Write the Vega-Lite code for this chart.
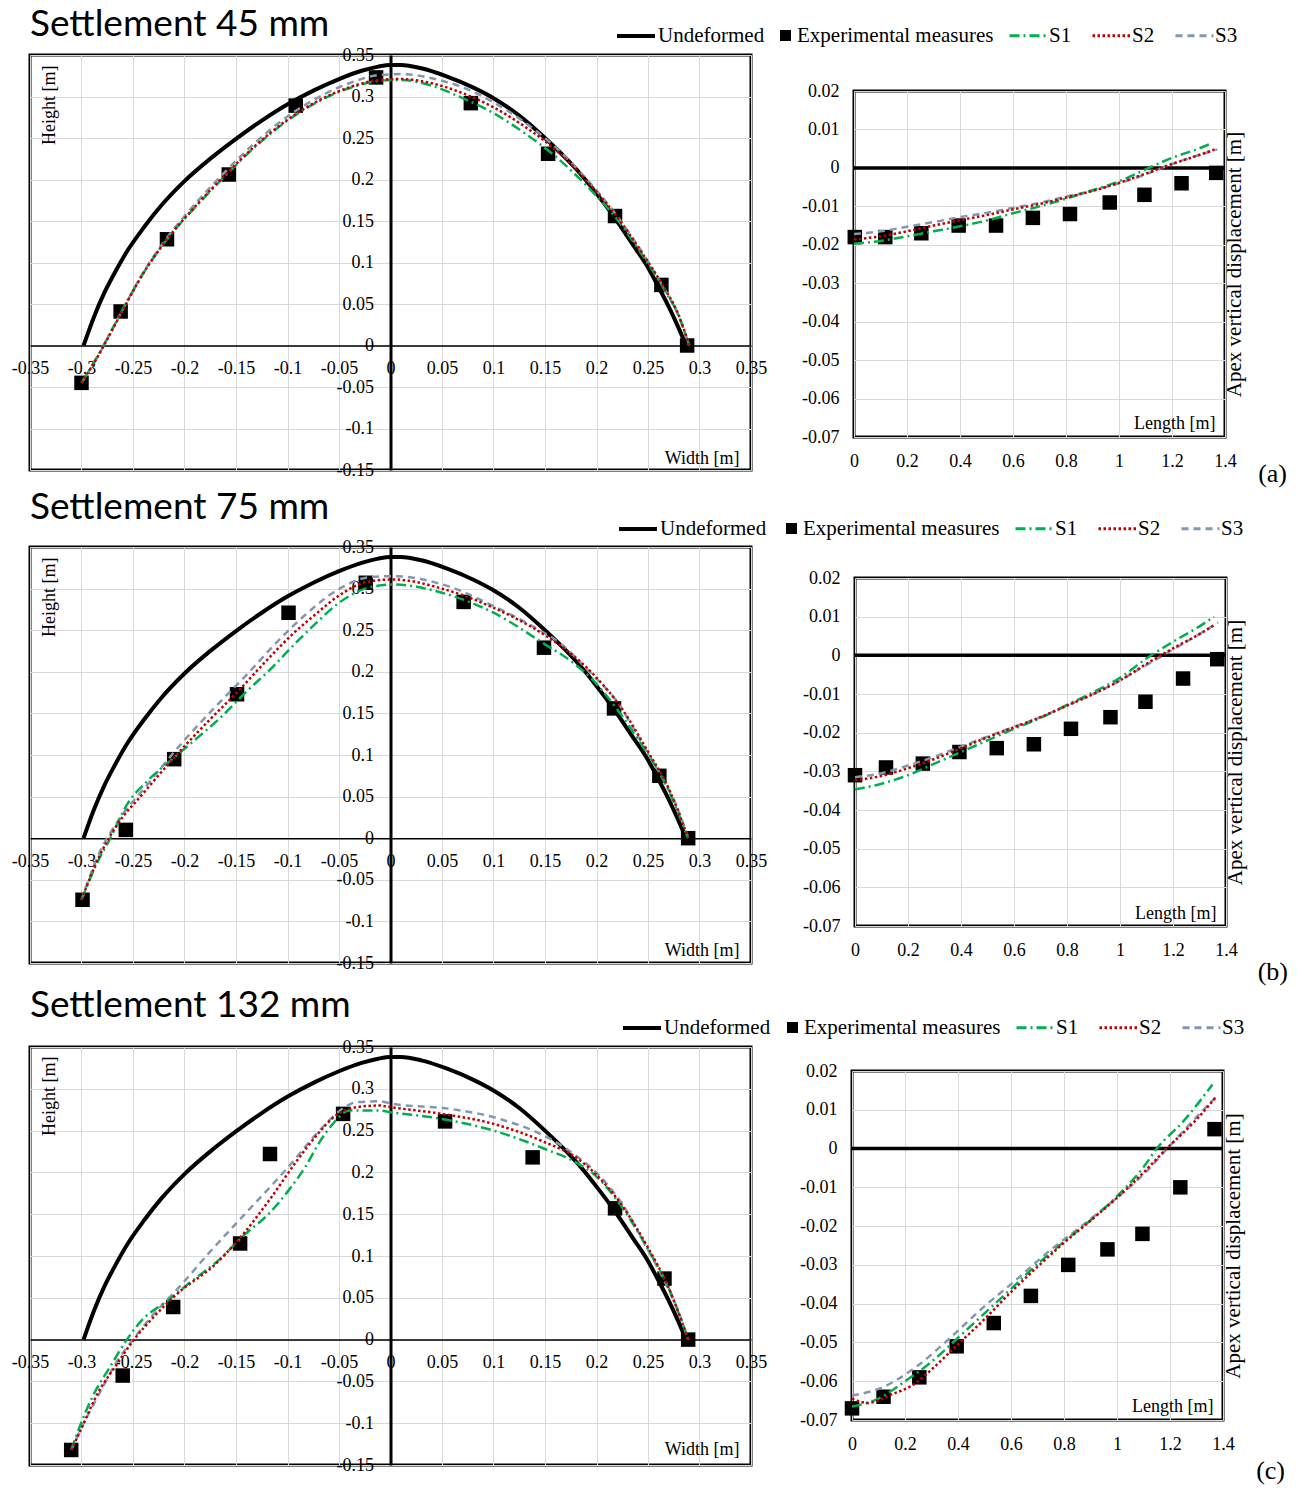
{
"$schema": "https://vega.github.io/schema/vega-lite/v6.json",
"padding": {"left": 9, "top": 4, "right": 5, "bottom": 5},
"background": "white",
"config": {
  "view": {"stroke": "black", "strokeWidth": 3},
  "axis": {"labelFont": "Liberation Serif", "labelFontSize": 18, "labelColor": "black", "titleFont": "Liberation Serif", "titleFontSize": 18, "titleFontWeight": "normal", "titleColor": "black", "gridColor": "#d9d9d9", "gridWidth": 1, "ticks": false, "labelFlush": false, "labelOverlap": false, "labelBound": false, "domainColor": "black"},
  "legend": {"labelFont": "Liberation Serif", "labelFontSize": 21, "labelColor": "black", "labelLimit": 400},
  "title": {"color": "black", "fontWeight": "normal"},
  "line": {"interpolate": "monotone"}
},
"datasets": {
  "U": [
    {"s":"Undeformed","x":-0.298,"y":0},{"s":"Undeformed","x":-0.2877,"y":0.035},{"s":"Undeformed","x":-0.278,"y":0.063},{"s":"Undeformed","x":-0.268,"y":0.087},{"s":"Undeformed","x":-0.255,"y":0.115},{"s":"Undeformed","x":-0.239,"y":0.143},{"s":"Undeformed","x":-0.223,"y":0.168},{"s":"Undeformed","x":-0.2,"y":0.198},{"s":"Undeformed","x":-0.174,"y":0.226},{"s":"Undeformed","x":-0.15,"y":0.249},{"s":"Undeformed","x":-0.125,"y":0.271},{"s":"Undeformed","x":-0.0994,"y":0.291},{"s":"Undeformed","x":-0.0734,"y":0.308},{"s":"Undeformed","x":-0.05,"y":0.321},{"s":"Undeformed","x":-0.028,"y":0.331},{"s":"Undeformed","x":-0.012,"y":0.336},{"s":"Undeformed","x":0,"y":0.338},{"s":"Undeformed","x":0.01,"y":0.338},{"s":"Undeformed","x":0.03,"y":0.334},{"s":"Undeformed","x":0.055,"y":0.324},{"s":"Undeformed","x":0.08,"y":0.311},{"s":"Undeformed","x":0.1,"y":0.298},{"s":"Undeformed","x":0.125,"y":0.277},{"s":"Undeformed","x":0.15,"y":0.25},{"s":"Undeformed","x":0.17,"y":0.226},{"s":"Undeformed","x":0.185,"y":0.206},{"s":"Undeformed","x":0.2,"y":0.183},{"s":"Undeformed","x":0.217,"y":0.155},{"s":"Undeformed","x":0.235,"y":0.122},{"s":"Undeformed","x":0.25,"y":0.094},{"s":"Undeformed","x":0.26,"y":0.071},{"s":"Undeformed","x":0.27,"y":0.047},{"s":"Undeformed","x":0.279,"y":0.023},{"s":"Undeformed","x":0.287,"y":0}
  ],
  "RU": [{"s":"Undeformed","x":0,"y":0},{"s":"Undeformed","x":1.4,"y":0}],
  "LE1": [
    {"s":"Experimental measures","x":-0.3,"y":-0.045},{"s":"Experimental measures","x":-0.262,"y":0.041},{"s":"Experimental measures","x":-0.217,"y":0.128},{"s":"Experimental measures","x":-0.157,"y":0.206},{"s":"Experimental measures","x":-0.092,"y":0.289},{"s":"Experimental measures","x":-0.014,"y":0.323},{"s":"Experimental measures","x":0.078,"y":0.292},{"s":"Experimental measures","x":0.153,"y":0.231},{"s":"Experimental measures","x":0.218,"y":0.156},{"s":"Experimental measures","x":0.263,"y":0.073},{"s":"Experimental measures","x":0.288,"y":0}
  ],
  "LE2": [
    {"s":"Experimental measures","x":-0.299,"y":-0.074},{"s":"Experimental measures","x":-0.257,"y":0.01},{"s":"Experimental measures","x":-0.21,"y":0.095},{"s":"Experimental measures","x":-0.149,"y":0.173},{"s":"Experimental measures","x":-0.099,"y":0.271},{"s":"Experimental measures","x":-0.024,"y":0.307},{"s":"Experimental measures","x":0.071,"y":0.284},{"s":"Experimental measures","x":0.149,"y":0.229},{"s":"Experimental measures","x":0.217,"y":0.156},{"s":"Experimental measures","x":0.261,"y":0.075},{"s":"Experimental measures","x":0.289,"y":0}
  ],
  "LE3": [
    {"s":"Experimental measures","x":-0.31,"y":-0.132},{"s":"Experimental measures","x":-0.26,"y":-0.043},{"s":"Experimental measures","x":-0.211,"y":0.039},{"s":"Experimental measures","x":-0.146,"y":0.115},{"s":"Experimental measures","x":-0.117,"y":0.222},{"s":"Experimental measures","x":-0.046,"y":0.27},{"s":"Experimental measures","x":0.053,"y":0.261},{"s":"Experimental measures","x":0.138,"y":0.218},{"s":"Experimental measures","x":0.218,"y":0.157},{"s":"Experimental measures","x":0.266,"y":0.073},{"s":"Experimental measures","x":0.289,"y":0}
  ],
  "L1": [
    {"s":"S3","x":-0.3,"y":-0.045},{"s":"S3","x":-0.285,"y":-0.015},{"s":"S3","x":-0.27,"y":0.02},{"s":"S3","x":-0.255,"y":0.055},{"s":"S3","x":-0.24,"y":0.088},{"s":"S3","x":-0.215,"y":0.133},{"s":"S3","x":-0.19,"y":0.17},{"s":"S3","x":-0.16,"y":0.21},{"s":"S3","x":-0.13,"y":0.246},{"s":"S3","x":-0.1,"y":0.276},{"s":"S3","x":-0.07,"y":0.299},{"s":"S3","x":-0.04,"y":0.316},{"s":"S3","x":-0.01,"y":0.326},{"s":"S3","x":0.01,"y":0.327},{"s":"S3","x":0.04,"y":0.322},{"s":"S3","x":0.07,"y":0.311},{"s":"S3","x":0.1,"y":0.293},{"s":"S3","x":0.13,"y":0.269},{"s":"S3","x":0.16,"y":0.239},{"s":"S3","x":0.19,"y":0.201},{"s":"S3","x":0.22,"y":0.156},{"s":"S3","x":0.245,"y":0.111},{"s":"S3","x":0.265,"y":0.07},{"s":"S3","x":0.28,"y":0.035},{"s":"S3","x":0.29,"y":0},
    {"s":"S1","x":-0.3,"y":-0.045},{"s":"S1","x":-0.285,"y":-0.014},{"s":"S1","x":-0.27,"y":0.02},{"s":"S1","x":-0.255,"y":0.055},{"s":"S1","x":-0.24,"y":0.087},{"s":"S1","x":-0.215,"y":0.131},{"s":"S1","x":-0.19,"y":0.166},{"s":"S1","x":-0.16,"y":0.205},{"s":"S1","x":-0.13,"y":0.241},{"s":"S1","x":-0.1,"y":0.271},{"s":"S1","x":-0.07,"y":0.294},{"s":"S1","x":-0.04,"y":0.31},{"s":"S1","x":-0.01,"y":0.319},{"s":"S1","x":0.01,"y":0.32},{"s":"S1","x":0.04,"y":0.313},{"s":"S1","x":0.07,"y":0.298},{"s":"S1","x":0.1,"y":0.28},{"s":"S1","x":0.13,"y":0.256},{"s":"S1","x":0.16,"y":0.228},{"s":"S1","x":0.19,"y":0.193},{"s":"S1","x":0.22,"y":0.152},{"s":"S1","x":0.245,"y":0.108},{"s":"S1","x":0.265,"y":0.069},{"s":"S1","x":0.28,"y":0.035},{"s":"S1","x":0.29,"y":0},
    {"s":"S2","x":-0.3,"y":-0.045},{"s":"S2","x":-0.285,"y":-0.015},{"s":"S2","x":-0.27,"y":0.019},{"s":"S2","x":-0.255,"y":0.054},{"s":"S2","x":-0.24,"y":0.087},{"s":"S2","x":-0.215,"y":0.131},{"s":"S2","x":-0.19,"y":0.167},{"s":"S2","x":-0.16,"y":0.206},{"s":"S2","x":-0.13,"y":0.242},{"s":"S2","x":-0.1,"y":0.272},{"s":"S2","x":-0.07,"y":0.295},{"s":"S2","x":-0.04,"y":0.311},{"s":"S2","x":-0.01,"y":0.32},{"s":"S2","x":0.01,"y":0.321},{"s":"S2","x":0.04,"y":0.316},{"s":"S2","x":0.07,"y":0.304},{"s":"S2","x":0.1,"y":0.287},{"s":"S2","x":0.13,"y":0.264},{"s":"S2","x":0.16,"y":0.236},{"s":"S2","x":0.19,"y":0.199},{"s":"S2","x":0.22,"y":0.155},{"s":"S2","x":0.245,"y":0.11},{"s":"S2","x":0.265,"y":0.071},{"s":"S2","x":0.28,"y":0.036},{"s":"S2","x":0.29,"y":0}
  ],
  "L2": [
    {"s":"S3","x":-0.3,"y":-0.074},{"s":"S3","x":-0.282,"y":-0.016},{"s":"S3","x":-0.266,"y":0.018},{"s":"S3","x":-0.235,"y":0.066},{"s":"S3","x":-0.207,"y":0.108},{"s":"S3","x":-0.17,"y":0.158},{"s":"S3","x":-0.14,"y":0.196},{"s":"S3","x":-0.11,"y":0.236},{"s":"S3","x":-0.084,"y":0.267},{"s":"S3","x":-0.052,"y":0.298},{"s":"S3","x":-0.019,"y":0.314},{"s":"S3","x":0.003,"y":0.315},{"s":"S3","x":0.058,"y":0.302},{"s":"S3","x":0.1,"y":0.279},{"s":"S3","x":0.139,"y":0.254},{"s":"S3","x":0.165,"y":0.234},{"s":"S3","x":0.194,"y":0.199},{"s":"S3","x":0.22,"y":0.164},{"s":"S3","x":0.246,"y":0.11},{"s":"S3","x":0.265,"y":0.07},{"s":"S3","x":0.278,"y":0.038},{"s":"S3","x":0.289,"y":0},
    {"s":"S1","x":-0.3,"y":-0.074},{"s":"S1","x":-0.285,"y":-0.03},{"s":"S1","x":-0.272,"y":0},{"s":"S1","x":-0.256,"y":0.04},{"s":"S1","x":-0.235,"y":0.07},{"s":"S1","x":-0.21,"y":0.097},{"s":"S1","x":-0.19,"y":0.118},{"s":"S1","x":-0.165,"y":0.145},{"s":"S1","x":-0.14,"y":0.176},{"s":"S1","x":-0.115,"y":0.205},{"s":"S1","x":-0.091,"y":0.236},{"s":"S1","x":-0.071,"y":0.26},{"s":"S1","x":-0.052,"y":0.281},{"s":"S1","x":-0.019,"y":0.302},{"s":"S1","x":0.003,"y":0.305},{"s":"S1","x":0.05,"y":0.295},{"s":"S1","x":0.1,"y":0.271},{"s":"S1","x":0.15,"y":0.233},{"s":"S1","x":0.175,"y":0.213},{"s":"S1","x":0.195,"y":0.192},{"s":"S1","x":0.22,"y":0.155},{"s":"S1","x":0.245,"y":0.11},{"s":"S1","x":0.265,"y":0.07},{"s":"S1","x":0.289,"y":0},
    {"s":"S2","x":-0.3,"y":-0.074},{"s":"S2","x":-0.282,"y":-0.02},{"s":"S2","x":-0.266,"y":0.015},{"s":"S2","x":-0.24,"y":0.054},{"s":"S2","x":-0.21,"y":0.097},{"s":"S2","x":-0.175,"y":0.143},{"s":"S2","x":-0.15,"y":0.174},{"s":"S2","x":-0.12,"y":0.214},{"s":"S2","x":-0.097,"y":0.243},{"s":"S2","x":-0.07,"y":0.272},{"s":"S2","x":-0.052,"y":0.29},{"s":"S2","x":-0.019,"y":0.309},{"s":"S2","x":0.003,"y":0.311},{"s":"S2","x":0.05,"y":0.3},{"s":"S2","x":0.1,"y":0.277},{"s":"S2","x":0.15,"y":0.244},{"s":"S2","x":0.175,"y":0.222},{"s":"S2","x":0.2,"y":0.193},{"s":"S2","x":0.225,"y":0.155},{"s":"S2","x":0.25,"y":0.104},{"s":"S2","x":0.27,"y":0.06},{"s":"S2","x":0.289,"y":0}
  ],
  "L3": [
    {"s":"S3","x":-0.31,"y":-0.132},{"s":"S3","x":-0.299,"y":-0.103},{"s":"S3","x":-0.282,"y":-0.063},{"s":"S3","x":-0.266,"y":-0.027},{"s":"S3","x":-0.25,"y":0},{"s":"S3","x":-0.231,"y":0.029},{"s":"S3","x":-0.205,"y":0.063},{"s":"S3","x":-0.176,"y":0.104},{"s":"S3","x":-0.143,"y":0.148},{"s":"S3","x":-0.101,"y":0.204},{"s":"S3","x":-0.066,"y":0.254},{"s":"S3","x":-0.049,"y":0.274},{"s":"S3","x":-0.033,"y":0.284},{"s":"S3","x":-0.011,"y":0.285},{"s":"S3","x":0.002,"y":0.282},{"s":"S3","x":0.058,"y":0.276},{"s":"S3","x":0.106,"y":0.264},{"s":"S3","x":0.155,"y":0.24},{"s":"S3","x":0.18,"y":0.22},{"s":"S3","x":0.203,"y":0.196},{"s":"S3","x":0.226,"y":0.16},{"s":"S3","x":0.248,"y":0.112},{"s":"S3","x":0.268,"y":0.065},{"s":"S3","x":0.281,"y":0.029},{"s":"S3","x":0.289,"y":0},
    {"s":"S1","x":-0.31,"y":-0.132},{"s":"S1","x":-0.302,"y":-0.105},{"s":"S1","x":-0.29,"y":-0.07},{"s":"S1","x":-0.272,"y":-0.032},{"s":"S1","x":-0.256,"y":0},{"s":"S1","x":-0.24,"y":0.025},{"s":"S1","x":-0.218,"y":0.045},{"s":"S1","x":-0.195,"y":0.068},{"s":"S1","x":-0.166,"y":0.096},{"s":"S1","x":-0.143,"y":0.124},{"s":"S1","x":-0.117,"y":0.152},{"s":"S1","x":-0.098,"y":0.18},{"s":"S1","x":-0.082,"y":0.208},{"s":"S1","x":-0.069,"y":0.236},{"s":"S1","x":-0.056,"y":0.258},{"s":"S1","x":-0.04,"y":0.274},{"s":"S1","x":-0.011,"y":0.274},{"s":"S1","x":0,"y":0.272},{"s":"S1","x":0.05,"y":0.264},{"s":"S1","x":0.1,"y":0.25},{"s":"S1","x":0.15,"y":0.228},{"s":"S1","x":0.18,"y":0.212},{"s":"S1","x":0.2,"y":0.195},{"s":"S1","x":0.225,"y":0.158},{"s":"S1","x":0.25,"y":0.108},{"s":"S1","x":0.27,"y":0.062},{"s":"S1","x":0.289,"y":0},
    {"s":"S2","x":-0.31,"y":-0.132},{"s":"S2","x":-0.3,"y":-0.106},{"s":"S2","x":-0.285,"y":-0.066},{"s":"S2","x":-0.266,"y":-0.03},{"s":"S2","x":-0.249,"y":0},{"s":"S2","x":-0.23,"y":0.027},{"s":"S2","x":-0.205,"y":0.057},{"s":"S2","x":-0.172,"y":0.088},{"s":"S2","x":-0.15,"y":0.116},{"s":"S2","x":-0.117,"y":0.168},{"s":"S2","x":-0.092,"y":0.212},{"s":"S2","x":-0.072,"y":0.244},{"s":"S2","x":-0.053,"y":0.268},{"s":"S2","x":-0.033,"y":0.278},{"s":"S2","x":-0.011,"y":0.28},{"s":"S2","x":0,"y":0.278},{"s":"S2","x":0.05,"y":0.27},{"s":"S2","x":0.1,"y":0.258},{"s":"S2","x":0.15,"y":0.236},{"s":"S2","x":0.18,"y":0.218},{"s":"S2","x":0.2,"y":0.197},{"s":"S2","x":0.225,"y":0.16},{"s":"S2","x":0.25,"y":0.11},{"s":"S2","x":0.27,"y":0.062},{"s":"S2","x":0.289,"y":0}
  ],
  "RE1": [
    {"s":"Experimental measures","x":0.003,"y":-0.018},{"s":"Experimental measures","x":0.118,"y":-0.018},{"s":"Experimental measures","x":0.254,"y":-0.017},{"s":"Experimental measures","x":0.395,"y":-0.015},{"s":"Experimental measures","x":0.536,"y":-0.015},{"s":"Experimental measures","x":0.675,"y":-0.013},{"s":"Experimental measures","x":0.815,"y":-0.012},{"s":"Experimental measures","x":0.965,"y":-0.009},{"s":"Experimental measures","x":1.096,"y":-0.007},{"s":"Experimental measures","x":1.236,"y":-0.004},{"s":"Experimental measures","x":1.367,"y":-0.0013}
  ],
  "RE2": [
    {"s":"Experimental measures","x":0,"y":-0.031},{"s":"Experimental measures","x":0.117,"y":-0.029},{"s":"Experimental measures","x":0.256,"y":-0.028},{"s":"Experimental measures","x":0.394,"y":-0.025},{"s":"Experimental measures","x":0.535,"y":-0.024},{"s":"Experimental measures","x":0.675,"y":-0.023},{"s":"Experimental measures","x":0.815,"y":-0.019},{"s":"Experimental measures","x":0.964,"y":-0.016},{"s":"Experimental measures","x":1.096,"y":-0.012},{"s":"Experimental measures","x":1.238,"y":-0.006},{"s":"Experimental measures","x":1.367,"y":-0.001}
  ],
  "RE3": [
    {"s":"Experimental measures","x":0,"y":-0.067},{"s":"Experimental measures","x":0.119,"y":-0.064},{"s":"Experimental measures","x":0.254,"y":-0.059},{"s":"Experimental measures","x":0.395,"y":-0.051},{"s":"Experimental measures","x":0.535,"y":-0.045},{"s":"Experimental measures","x":0.675,"y":-0.038},{"s":"Experimental measures","x":0.816,"y":-0.03},{"s":"Experimental measures","x":0.964,"y":-0.026},{"s":"Experimental measures","x":1.096,"y":-0.022},{"s":"Experimental measures","x":1.239,"y":-0.01},{"s":"Experimental measures","x":1.368,"y":0.005}
  ],
  "R1": [
    {"s":"S3","x":0,"y":-0.0172},{"s":"S3","x":0.1,"y":-0.0165},{"s":"S3","x":0.2,"y":-0.0153},{"s":"S3","x":0.3,"y":-0.0141},{"s":"S3","x":0.4,"y":-0.0128},{"s":"S3","x":0.5,"y":-0.0117},{"s":"S3","x":0.6,"y":-0.0104},{"s":"S3","x":0.7,"y":-0.0091},{"s":"S3","x":0.8,"y":-0.0075},{"s":"S3","x":0.9,"y":-0.0059},{"s":"S3","x":1,"y":-0.004},{"s":"S3","x":1.1,"y":-0.0017},{"s":"S3","x":1.2,"y":0.001},{"s":"S3","x":1.3,"y":0.0033},{"s":"S3","x":1.37,"y":0.0048},
    {"s":"S1","x":0,"y":-0.0197},{"s":"S1","x":0.1,"y":-0.019},{"s":"S1","x":0.2,"y":-0.0178},{"s":"S1","x":0.3,"y":-0.0165},{"s":"S1","x":0.4,"y":-0.0152},{"s":"S1","x":0.5,"y":-0.0137},{"s":"S1","x":0.6,"y":-0.0118},{"s":"S1","x":0.7,"y":-0.01},{"s":"S1","x":0.8,"y":-0.008},{"s":"S1","x":0.9,"y":-0.0058},{"s":"S1","x":1,"y":-0.0035},{"s":"S1","x":1.1,"y":-0.0004},{"s":"S1","x":1.2,"y":0.0026},{"s":"S1","x":1.3,"y":0.005},{"s":"S1","x":1.35,"y":0.0064},
    {"s":"S2","x":0,"y":-0.0186},{"s":"S2","x":0.1,"y":-0.0178},{"s":"S2","x":0.2,"y":-0.0165},{"s":"S2","x":0.3,"y":-0.015},{"s":"S2","x":0.4,"y":-0.0136},{"s":"S2","x":0.5,"y":-0.0123},{"s":"S2","x":0.6,"y":-0.0108},{"s":"S2","x":0.7,"y":-0.0094},{"s":"S2","x":0.8,"y":-0.0077},{"s":"S2","x":0.9,"y":-0.006},{"s":"S2","x":1,"y":-0.0039},{"s":"S2","x":1.1,"y":-0.0015},{"s":"S2","x":1.2,"y":0.001},{"s":"S2","x":1.3,"y":0.0033},{"s":"S2","x":1.37,"y":0.005}
  ],
  "R2": [
    {"s":"S3","x":0,"y":-0.0315},{"s":"S3","x":0.1,"y":-0.0305},{"s":"S3","x":0.2,"y":-0.0285},{"s":"S3","x":0.3,"y":-0.0262},{"s":"S3","x":0.4,"y":-0.0236},{"s":"S3","x":0.5,"y":-0.021},{"s":"S3","x":0.6,"y":-0.0185},{"s":"S3","x":0.7,"y":-0.016},{"s":"S3","x":0.8,"y":-0.013},{"s":"S3","x":0.9,"y":-0.01},{"s":"S3","x":1,"y":-0.0065},{"s":"S3","x":1.1,"y":-0.0025},{"s":"S3","x":1.2,"y":0.0015},{"s":"S3","x":1.3,"y":0.0055},{"s":"S3","x":1.37,"y":0.0085},
    {"s":"S1","x":0,"y":-0.0347},{"s":"S1","x":0.1,"y":-0.0332},{"s":"S1","x":0.2,"y":-0.031},{"s":"S1","x":0.3,"y":-0.028},{"s":"S1","x":0.4,"y":-0.025},{"s":"S1","x":0.5,"y":-0.022},{"s":"S1","x":0.6,"y":-0.019},{"s":"S1","x":0.7,"y":-0.0162},{"s":"S1","x":0.8,"y":-0.0128},{"s":"S1","x":0.9,"y":-0.0095},{"s":"S1","x":1,"y":-0.0058},{"s":"S1","x":1.1,"y":-0.0008},{"s":"S1","x":1.2,"y":0.0035},{"s":"S1","x":1.3,"y":0.0075},{"s":"S1","x":1.355,"y":0.01},
    {"s":"S2","x":0,"y":-0.0323},{"s":"S2","x":0.1,"y":-0.0312},{"s":"S2","x":0.2,"y":-0.0292},{"s":"S2","x":0.3,"y":-0.0268},{"s":"S2","x":0.4,"y":-0.024},{"s":"S2","x":0.5,"y":-0.0212},{"s":"S2","x":0.6,"y":-0.0186},{"s":"S2","x":0.7,"y":-0.016},{"s":"S2","x":0.8,"y":-0.013},{"s":"S2","x":0.9,"y":-0.01},{"s":"S2","x":1,"y":-0.0065},{"s":"S2","x":1.1,"y":-0.0022},{"s":"S2","x":1.2,"y":0.0018},{"s":"S2","x":1.3,"y":0.0055},{"s":"S2","x":1.36,"y":0.008}
  ],
  "R3": [
    {"s":"S3","x":0,"y":-0.0637},{"s":"S3","x":0.114,"y":-0.0616},{"s":"S3","x":0.24,"y":-0.0564},{"s":"S3","x":0.366,"y":-0.0491},{"s":"S3","x":0.491,"y":-0.0412},{"s":"S3","x":0.617,"y":-0.034},{"s":"S3","x":0.743,"y":-0.0265},{"s":"S3","x":0.868,"y":-0.0199},{"s":"S3","x":0.994,"y":-0.013},{"s":"S3","x":1.12,"y":-0.0053},{"s":"S3","x":1.183,"y":-0.0005},{"s":"S3","x":1.246,"y":0.0042},{"s":"S3","x":1.372,"y":0.0132},
    {"s":"S1","x":0,"y":-0.0665},{"s":"S1","x":0.1,"y":-0.0645},{"s":"S1","x":0.2,"y":-0.06},{"s":"S1","x":0.3,"y":-0.055},{"s":"S1","x":0.4,"y":-0.0488},{"s":"S1","x":0.5,"y":-0.0425},{"s":"S1","x":0.6,"y":-0.0362},{"s":"S1","x":0.7,"y":-0.0298},{"s":"S1","x":0.8,"y":-0.024},{"s":"S1","x":0.9,"y":-0.0185},{"s":"S1","x":1,"y":-0.0123},{"s":"S1","x":1.1,"y":-0.0048},{"s":"S1","x":1.15,"y":0},{"s":"S1","x":1.25,"y":0.007},{"s":"S1","x":1.36,"y":0.0165},
    {"s":"S2","x":0,"y":-0.0645},{"s":"S2","x":0.06,"y":-0.0656},{"s":"S2","x":0.15,"y":-0.0634},{"s":"S2","x":0.24,"y":-0.0605},{"s":"S2","x":0.3,"y":-0.057},{"s":"S2","x":0.4,"y":-0.0505},{"s":"S2","x":0.5,"y":-0.044},{"s":"S2","x":0.6,"y":-0.037},{"s":"S2","x":0.7,"y":-0.0305},{"s":"S2","x":0.8,"y":-0.0243},{"s":"S2","x":0.9,"y":-0.0186},{"s":"S2","x":1,"y":-0.0127},{"s":"S2","x":1.1,"y":-0.0062},{"s":"S2","x":1.18,"y":-0.0005},{"s":"S2","x":1.3,"y":0.0075},{"s":"S2","x":1.37,"y":0.013}
  ]
},
"resolve": {"legend": {"color": "independent", "strokeDash": "independent", "stroke": "independent", "shape": "independent"}},
"spacing": -1,
"vconcat": [
  {
    "bounds": "flush", "spacing": 103,
    "hconcat": [
      {
        "width": 721, "height": 415,
        "title": {"text": "Settlement 45 mm", "anchor": "start", "frame": "group", "font": "Lato", "fontSize": 37, "baseline": "alphabetic", "offset": 10, "dy": 37},
        "encoding": {
          "x": {"field": "x", "type": "quantitative", "scale": {"domain": [-0.35, 0.35], "nice": false, "zero": false},
            "axis": {"values": [-0.35,-0.3,-0.25,-0.2,-0.15,-0.1,-0.05,0,0.05,0.1,0.15,0.2,0.25,0.3,0.35], "labelExpr": "'' + datum.value", "offset": -124.5, "domainWidth": 1.5, "labelPadding": 14, "title": "Width [m]", "titleX": 709, "titleY": 117.5, "titleAlign": "right", "titleBaseline": "alphabetic"}},
          "y": {"field": "y", "type": "quantitative", "scale": {"domain": [-0.15, 0.35], "nice": false, "zero": false},
            "axis": {"values": [-0.15,-0.1,-0.05,0,0.05,0.1,0.15,0.2,0.25,0.3,0.35], "labelExpr": "'' + datum.value", "offset": -360.5, "domainWidth": 3, "labelPadding": 17, "title": "Height [m]", "titleX": -341.5, "titleY": 10, "titleAngle": 270, "titleAlign": "right", "titleBaseline": "middle"}}
        },
        "layer": [
          {"data": {"name": "U"}, "mark": {"type": "line", "strokeWidth": 4},
           "encoding": {"stroke": {"field": "s", "type": "nominal", "scale": {"domain": ["Undeformed"], "range": ["black"]},
             "legend": {"orient": "none", "legendX": 585, "legendY": -40, "title": null, "symbolType": "stroke", "symbolSize": 1444, "symbolStrokeWidth": 4, "labelOffset": 1}}}},
          {"data": {"name": "LE1"}, "mark": {"type": "point", "filled": true, "color": "black", "size": 210, "opacity": 1},
           "encoding": {"shape": {"field": "s", "type": "nominal", "scale": {"domain": ["Experimental measures"], "range": ["square"]},
             "legend": {"orient": "none", "legendX": 745, "legendY": -30, "title": null, "symbolSize": 121, "symbolFillColor": "black", "symbolStrokeColor": "black", "labelOffset": 1}}}},
          {"data": {"name": "L1"}, "mark": {"type": "line", "strokeWidth": 2.5},
           "encoding": {
             "color": {"field": "s", "type": "nominal", "scale": {"domain": ["S1","S2","S3"], "range": ["#00b050","#c00000","#8497b0"]},
               "legend": {"orient": "none", "legendX": 978, "legendY": -40, "title": null, "direction": "horizontal", "symbolSize": 1444, "symbolStrokeWidth": 3, "columnPadding": 14, "labelOffset": 0}},
             "strokeDash": {"field": "s", "type": "nominal", "scale": {"domain": ["S1","S2","S3"], "range": [[10,4,2,4],[2.5,2.5],[7,5]]},
               "legend": {"orient": "none", "legendX": 978, "legendY": -40, "title": null, "direction": "horizontal", "symbolSize": 1444, "symbolStrokeWidth": 3, "columnPadding": 14, "labelOffset": 0}}}}
        ]
      },
      {
        "bounds": "flush", "spacing": 35,
        "vconcat": [
          {"width": 371, "height": 1, "data": {"values": []}, "mark": "rule", "encoding": {}, "view": {"stroke": null}},
          {
            "width": 371, "height": 346,
            "title": {"text": "(a)", "orient": "bottom", "anchor": "end", "frame": "group", "font": "Liberation Serif", "fontSize": 26, "dx": 62, "dy": -13.5},
            "encoding": {
              "x": {"field": "x", "type": "quantitative", "scale": {"domain": [0, 1.4], "nice": false},
                "axis": {"values": [0,0.2,0.4,0.6,0.8,1,1.2,1.4], "labelExpr": "'' + datum.value", "domain": false, "labelPadding": 15, "title": "Length [m]", "titleX": 361, "titleY": -9, "titleAlign": "right", "titleBaseline": "alphabetic"}},
              "y": {"field": "y", "type": "quantitative", "scale": {"domain": [-0.07, 0.02], "nice": false, "zero": false},
                "axis": {"values": [-0.07,-0.06,-0.05,-0.04,-0.03,-0.02,-0.01,0,0.01,0.02], "labelExpr": "'' + datum.value", "domain": false, "labelPadding": 15, "title": "Apex vertical displacement [m]", "titleFontSize": 21, "titleX": 380, "titleY": 173, "titleAngle": 270, "titleAlign": "center", "titleBaseline": "middle"}}
            },
            "layer": [
              {"data": {"name": "RU"}, "mark": {"type": "line", "strokeWidth": 3.5},
               "encoding": {"stroke": {"field": "s", "type": "nominal", "scale": {"domain": ["Undeformed"], "range": ["black"]}, "legend": null}}},
              {"data": {"name": "RE1"}, "mark": {"type": "point", "filled": true, "color": "black", "size": 210, "opacity": 1},
               "encoding": {"shape": {"field": "s", "type": "nominal", "scale": {"domain": ["Experimental measures"], "range": ["square"]}, "legend": null}}},
              {"data": {"name": "R1"}, "mark": {"type": "line", "strokeWidth": 2.5},
               "encoding": {
                 "color": {"field": "s", "type": "nominal", "scale": {"domain": ["S1","S2","S3"], "range": ["#00b050","#c00000","#8497b0"]}, "legend": null},
                 "strokeDash": {"field": "s", "type": "nominal", "scale": {"domain": ["S1","S2","S3"], "range": [[10,4,2,4],[2.5,2.5],[7,5]]}, "legend": null}}}
            ]
          }
        ]
      }
    ]
  },
  {
    "bounds": "flush", "spacing": 104,
    "hconcat": [
      {
        "width": 721, "height": 416,
        "title": {"text": "Settlement 75 mm", "anchor": "start", "frame": "group", "font": "Lato", "fontSize": 37, "baseline": "alphabetic", "offset": 15, "dy": 33},
        "encoding": {
          "x": {"field": "x", "type": "quantitative", "scale": {"domain": [-0.35, 0.35], "nice": false, "zero": false},
            "axis": {"values": [-0.35,-0.3,-0.25,-0.2,-0.15,-0.1,-0.05,0,0.05,0.1,0.15,0.2,0.25,0.3,0.35], "labelExpr": "'' + datum.value", "offset": -124.8, "domainWidth": 1.5, "labelPadding": 14, "title": "Width [m]", "titleX": 709, "titleY": 117, "titleAlign": "right", "titleBaseline": "alphabetic"}},
          "y": {"field": "y", "type": "quantitative", "scale": {"domain": [-0.15, 0.35], "nice": false, "zero": false},
            "axis": {"values": [-0.15,-0.1,-0.05,0,0.05,0.1,0.15,0.2,0.25,0.3,0.35], "labelExpr": "'' + datum.value", "offset": -360.5, "domainWidth": 3, "labelPadding": 17, "title": "Height [m]", "titleX": -341.5, "titleY": 10, "titleAngle": 270, "titleAlign": "right", "titleBaseline": "middle"}}
        },
        "layer": [
          {"data": {"name": "U"}, "mark": {"type": "line", "strokeWidth": 4},
           "encoding": {"stroke": {"field": "s", "type": "nominal", "scale": {"domain": ["Undeformed"], "range": ["black"]},
             "legend": {"orient": "none", "legendX": 587, "legendY": -39, "title": null, "symbolType": "stroke", "symbolSize": 1444, "symbolStrokeWidth": 4, "labelOffset": 1}}}},
          {"data": {"name": "LE2"}, "mark": {"type": "point", "filled": true, "color": "black", "size": 210, "opacity": 1},
           "encoding": {"shape": {"field": "s", "type": "nominal", "scale": {"domain": ["Experimental measures"], "range": ["square"]},
             "legend": {"orient": "none", "legendX": 751, "legendY": -29, "title": null, "symbolSize": 121, "symbolFillColor": "black", "symbolStrokeColor": "black", "labelOffset": 1}}}},
          {"data": {"name": "L2"}, "mark": {"type": "line", "strokeWidth": 2.5},
           "encoding": {
             "color": {"field": "s", "type": "nominal", "scale": {"domain": ["S1","S2","S3"], "range": ["#00b050","#c00000","#8497b0"]},
               "legend": {"orient": "none", "legendX": 984, "legendY": -39, "title": null, "direction": "horizontal", "symbolSize": 1444, "symbolStrokeWidth": 3, "columnPadding": 14, "labelOffset": 0}},
             "strokeDash": {"field": "s", "type": "nominal", "scale": {"domain": ["S1","S2","S3"], "range": [[10,4,2,4],[2.5,2.5],[7,5]]},
               "legend": {"orient": "none", "legendX": 984, "legendY": -39, "title": null, "direction": "horizontal", "symbolSize": 1444, "symbolStrokeWidth": 3, "columnPadding": 14, "labelOffset": 0}}}}
        ]
      },
      {
        "bounds": "flush", "spacing": 30,
        "vconcat": [
          {"width": 371, "height": 1, "data": {"values": []}, "mark": "rule", "encoding": {}, "view": {"stroke": null}},
          {
            "width": 371, "height": 348,
            "title": {"text": "(b)", "orient": "bottom", "anchor": "end", "frame": "group", "font": "Liberation Serif", "fontSize": 26, "dx": 62, "dy": -4.5},
            "encoding": {
              "x": {"field": "x", "type": "quantitative", "scale": {"domain": [0, 1.4], "nice": false},
                "axis": {"values": [0,0.2,0.4,0.6,0.8,1,1.2,1.4], "labelExpr": "'' + datum.value", "domain": false, "labelPadding": 15, "title": "Length [m]", "titleX": 361, "titleY": -8, "titleAlign": "right", "titleBaseline": "alphabetic"}},
              "y": {"field": "y", "type": "quantitative", "scale": {"domain": [-0.07, 0.02], "nice": false, "zero": false},
                "axis": {"values": [-0.07,-0.06,-0.05,-0.04,-0.03,-0.02,-0.01,0,0.01,0.02], "labelExpr": "'' + datum.value", "domain": false, "labelPadding": 15, "title": "Apex vertical displacement [m]", "titleFontSize": 21, "titleX": 380, "titleY": 174, "titleAngle": 270, "titleAlign": "center", "titleBaseline": "middle"}}
            },
            "layer": [
              {"data": {"name": "RU"}, "mark": {"type": "line", "strokeWidth": 3.5},
               "encoding": {"stroke": {"field": "s", "type": "nominal", "scale": {"domain": ["Undeformed"], "range": ["black"]}, "legend": null}}},
              {"data": {"name": "RE2"}, "mark": {"type": "point", "filled": true, "color": "black", "size": 210, "opacity": 1},
               "encoding": {"shape": {"field": "s", "type": "nominal", "scale": {"domain": ["Experimental measures"], "range": ["square"]}, "legend": null}}},
              {"data": {"name": "R2"}, "mark": {"type": "line", "strokeWidth": 2.5},
               "encoding": {
                 "color": {"field": "s", "type": "nominal", "scale": {"domain": ["S1","S2","S3"], "range": ["#00b050","#c00000","#8497b0"]}, "legend": null},
                 "strokeDash": {"field": "s", "type": "nominal", "scale": {"domain": ["S1","S2","S3"], "range": [[10,4,2,4],[2.5,2.5],[7,5]]}, "legend": null}}}
            ]
          }
        ]
      }
    ]
  },
  {
    "bounds": "flush", "spacing": 101,
    "hconcat": [
      {
        "width": 721, "height": 418,
        "title": {"text": "Settlement 132 mm", "anchor": "start", "frame": "group", "font": "Lato", "fontSize": 37, "baseline": "alphabetic", "offset": 18, "dy": 34},
        "encoding": {
          "x": {"field": "x", "type": "quantitative", "scale": {"domain": [-0.35, 0.35], "nice": false, "zero": false},
            "axis": {"values": [-0.35,-0.3,-0.25,-0.2,-0.15,-0.1,-0.05,0,0.05,0.1,0.15,0.2,0.25,0.3,0.35], "labelExpr": "'' + datum.value", "offset": -125.4, "domainWidth": 1.5, "labelPadding": 14, "title": "Width [m]", "titleX": 709, "titleY": 115, "titleAlign": "right", "titleBaseline": "alphabetic"}},
          "y": {"field": "y", "type": "quantitative", "scale": {"domain": [-0.15, 0.35], "nice": false, "zero": false},
            "axis": {"values": [-0.15,-0.1,-0.05,0,0.05,0.1,0.15,0.2,0.25,0.3,0.35], "labelExpr": "'' + datum.value", "offset": -360.5, "domainWidth": 3, "labelPadding": 17, "title": "Height [m]", "titleX": -341.5, "titleY": 9, "titleAngle": 270, "titleAlign": "right", "titleBaseline": "middle"}}
        },
        "layer": [
          {"data": {"name": "U"}, "mark": {"type": "line", "strokeWidth": 4},
           "encoding": {"stroke": {"field": "s", "type": "nominal", "scale": {"domain": ["Undeformed"], "range": ["black"]},
             "legend": {"orient": "none", "legendX": 591, "legendY": -40, "title": null, "symbolType": "stroke", "symbolSize": 1444, "symbolStrokeWidth": 4, "labelOffset": 1}}}},
          {"data": {"name": "LE3"}, "mark": {"type": "point", "filled": true, "color": "black", "size": 210, "opacity": 1},
           "encoding": {"shape": {"field": "s", "type": "nominal", "scale": {"domain": ["Experimental measures"], "range": ["square"]},
             "legend": {"orient": "none", "legendX": 752, "legendY": -30, "title": null, "symbolSize": 121, "symbolFillColor": "black", "symbolStrokeColor": "black", "labelOffset": 1}}}},
          {"data": {"name": "L3"}, "mark": {"type": "line", "strokeWidth": 2.5},
           "encoding": {
             "color": {"field": "s", "type": "nominal", "scale": {"domain": ["S1","S2","S3"], "range": ["#00b050","#c00000","#8497b0"]},
               "legend": {"orient": "none", "legendX": 985, "legendY": -40, "title": null, "direction": "horizontal", "symbolSize": 1444, "symbolStrokeWidth": 3, "columnPadding": 14, "labelOffset": 0}},
             "strokeDash": {"field": "s", "type": "nominal", "scale": {"domain": ["S1","S2","S3"], "range": [[10,4,2,4],[2.5,2.5],[7,5]]},
               "legend": {"orient": "none", "legendX": 985, "legendY": -40, "title": null, "direction": "horizontal", "symbolSize": 1444, "symbolStrokeWidth": 3, "columnPadding": 14, "labelOffset": 0}}}}
        ]
      },
      {
        "bounds": "flush", "spacing": 23,
        "vconcat": [
          {"width": 371, "height": 1, "data": {"values": []}, "mark": "rule", "encoding": {}, "view": {"stroke": null}},
          {
            "width": 371, "height": 349,
            "title": {"text": "(c)", "orient": "bottom", "anchor": "end", "frame": "group", "font": "Liberation Serif", "fontSize": 26, "dx": 62, "dy": 0.5},
            "encoding": {
              "x": {"field": "x", "type": "quantitative", "scale": {"domain": [0, 1.4], "nice": false},
                "axis": {"values": [0,0.2,0.4,0.6,0.8,1,1.2,1.4], "labelExpr": "'' + datum.value", "domain": false, "labelPadding": 15, "title": "Length [m]", "titleX": 361, "titleY": -9, "titleAlign": "right", "titleBaseline": "alphabetic"}},
              "y": {"field": "y", "type": "quantitative", "scale": {"domain": [-0.07, 0.02], "nice": false, "zero": false},
                "axis": {"values": [-0.07,-0.06,-0.05,-0.04,-0.03,-0.02,-0.01,0,0.01,0.02], "labelExpr": "'' + datum.value", "domain": false, "labelPadding": 15, "title": "Apex vertical displacement [m]", "titleFontSize": 21, "titleX": 381, "titleY": 174.5, "titleAngle": 270, "titleAlign": "center", "titleBaseline": "middle"}}
            },
            "layer": [
              {"data": {"name": "RU"}, "mark": {"type": "line", "strokeWidth": 3.5},
               "encoding": {"stroke": {"field": "s", "type": "nominal", "scale": {"domain": ["Undeformed"], "range": ["black"]}, "legend": null}}},
              {"data": {"name": "RE3"}, "mark": {"type": "point", "filled": true, "color": "black", "size": 210, "opacity": 1},
               "encoding": {"shape": {"field": "s", "type": "nominal", "scale": {"domain": ["Experimental measures"], "range": ["square"]}, "legend": null}}},
              {"data": {"name": "R3"}, "mark": {"type": "line", "strokeWidth": 2.5},
               "encoding": {
                 "color": {"field": "s", "type": "nominal", "scale": {"domain": ["S1","S2","S3"], "range": ["#00b050","#c00000","#8497b0"]}, "legend": null},
                 "strokeDash": {"field": "s", "type": "nominal", "scale": {"domain": ["S1","S2","S3"], "range": [[10,4,2,4],[2.5,2.5],[7,5]]}, "legend": null}}}
            ]
          }
        ]
      }
    ]
  }
]
}
